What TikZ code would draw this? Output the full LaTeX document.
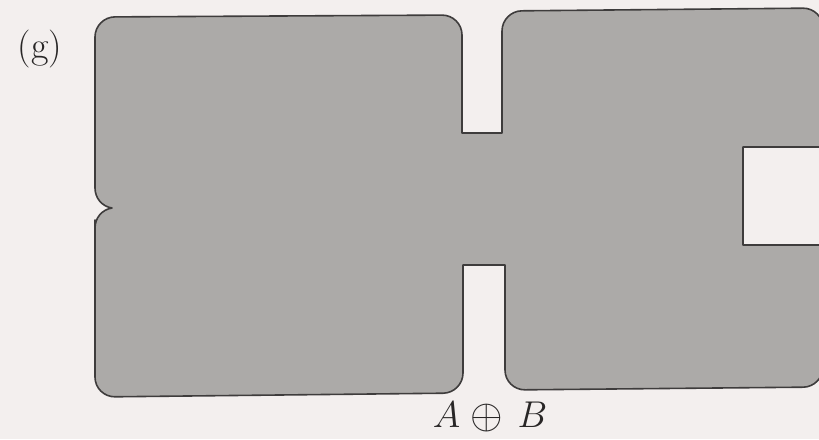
\documentclass[tikz,border=0pt]{standalone}
\usepackage{xcolor}
\usepackage{tikz}
\usepackage{amsmath}
\definecolor{PaperWhite}{RGB}{243,239,238}
\definecolor{ShapeGray}{RGB}{172,170,168}
\definecolor{EdgeDark}{RGB}{62,60,60}
\definecolor{InkBlack}{RGB}{40,38,38}

\begin{document}
\begin{tikzpicture}[x=1pt, y=-1pt,
          outline/.style={draw=EdgeDark, line width=1.6pt, fill=ShapeGray,
                          line join=round},
          tag/.style={font=\fontsize{38}{44}\selectfont, text=InkBlack,
                      inner sep=0pt},
          lab/.style={font=\fontsize{24}{28}\selectfont, text=InkBlack,
                      inner sep=0pt, anchor=base, scale=1.5}
        ]
        % paper and frame
        \fill[PaperWhite] (0,0) rectangle (819,439);
        \useasboundingbox (0,0) rectangle (819,439);
        \clip (0,0) rectangle (819,439);

        % the dilated set
        \draw[outline]
              (95,176) [rounded corners=20pt] -- (95,17) -- (462,15)
              [sharp corners] -- (462,133) -- (502,133)
              [rounded corners=20pt] -- (502,11) -- (823,8)
              [sharp corners] -- (823,147) -- (743,147) -- (743,245) -- (823,245)
              [rounded corners=20pt] -- (823,387) -- (505,390)
              [sharp corners] -- (505,265) -- (463,265)
              [rounded corners=20pt] -- (463,393) -- (95,397) -- (95,240)
              [sharp corners] -- (95,228)
              .. controls (95,218) and (102,209.5) .. (112,208)
              .. controls (102,206.5) and (95,198) .. (95,188) -- cycle;

        % labels
        \node[tag] (panel) at (40,49) {(g)};
        \node[lab] (sum)   at (490,427)
              {$A\mkern1mu\mathbin{\raisebox{-1.3pt}{\scalebox{1.12}{$\oplus$}}}\mkern3mu B$};
      \end{tikzpicture}
\end{document}
